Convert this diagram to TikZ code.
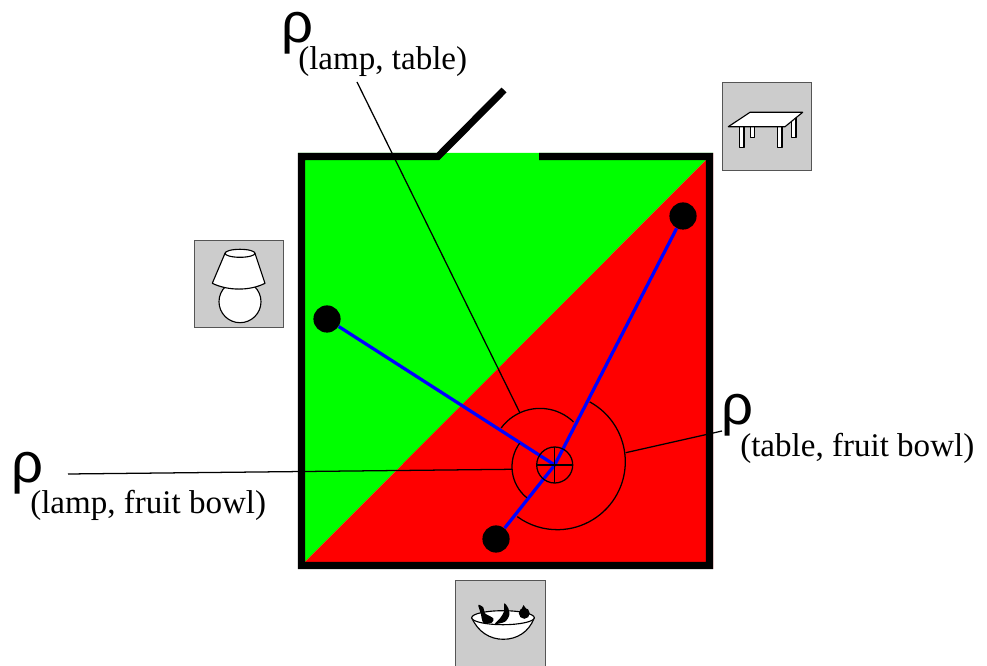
\documentclass[tikz,border=0pt]{standalone}
\usepackage{fontspec}
\setmainfont{Liberation Serif}
\newfontfamily\rhofont{Liberation Sans}
\usepackage{xcolor}
\usepackage{tikz}
\usetikzlibrary{arrows.meta,positioning,calc}
\definecolor{roomgreen}{RGB}{0,255,0}
\definecolor{roomred}{RGB}{255,0,0}
\definecolor{iconbg}{RGB}{204,204,204}
\definecolor{iconedge}{RGB}{85,85,85}
\definecolor{rayblue}{RGB}{0,0,255}
\tikzset{
  wall/.style={draw=black, line width=5pt, line cap=butt, line join=miter},
  ray/.style={draw=rayblue, line width=2.3pt},
  thin line/.style={draw=black, line width=0.9pt},
  obj/.style={circle, fill=black, inner sep=0pt, minimum size=0.68cm},
  icon/.style={draw=iconedge, fill=iconbg, line width=0.6pt},
  iconpart/.style={draw=black, fill=white, line width=0.8pt, line join=round},
  rholab/.style={font=\rhofont\fontsize{40}{44}\selectfont, anchor=base west, inner sep=0pt},
  sublab/.style={font=\fontsize{23.5}{26}\selectfont, anchor=base west, inner sep=0pt}
}
\begin{document}
\begin{tikzpicture}[x=0.025cm,y=0.025cm]
  \useasboundingbox (0,0) rectangle (987,665);
  % room
  \fill[roomgreen] (298,512) -- (713,512) -- (298,96) -- cycle;
  \fill[roomred] (713,512) -- (713,96) -- (298,96) -- cycle;
  \draw[wall] (504,575) -- (438,508.5) -- (301.5,508.5) -- (301.5,99.5) -- (709.5,99.5) -- (709.5,508.5) -- (539,508.5);
  % objects
  \coordinate (centre) at (554.7,200);
  \node[obj] (lamp) at (327,346) {};
  \node[obj] (tbl) at (683,449) {};
  \node[obj] (bowl) at (496,126) {};
  \draw[ray] (lamp) -- (centre);
  \draw[ray] (tbl) -- (centre);
  \draw[ray] (bowl) -- (centre);
  % angle arcs
  \draw[thin line] (centre) circle[radius=18];
  \draw[thin line] (536.7,200) -- (572.7,200);
  \draw[thin line] (554.7,182) -- (554.7,218);
  \draw[thin line] (540,208.3) ++(143.4:48.3) arc[start angle=143.4, end angle=46, radius=48.3];
  \draw[thin line] (557.3,203.3) ++(61.5:68) arc[start angle=61.5, end angle=-126, radius=68];
  \draw[thin line] (552,198.3) ++(144:40) arc[start angle=144, end angle=231, radius=40];
  % labels
  \node[rholab] (rholt) at (281,622) {ρ};
  \node[sublab] (sublt) at (298,595.5) {(lamp, table)};
  \node[rholab] (rholb) at (11,182) {ρ};
  \node[sublab] (sublb) at (30,151.5) {(lamp, fruit bowl)};
  \node[rholab] (rhotb) at (721,240) {ρ};
  \node[sublab] (subtb) at (740,208.5) {(table, fruit bowl)};
  \coordinate (ltstart) at (357,583);
  \coordinate (ltend) at (520,252);
  \coordinate (lbstart) at (68,191);
  \coordinate (lbend) at (512,195.7);
  \coordinate (tbstart) at (722,234);
  \coordinate (tbend) at (625.7,212.3);
  \draw[thin line] (ltstart) -- (ltend);
  \draw[thin line] (lbstart) -- (lbend);
  \draw[thin line] (tbstart) -- (tbend);
  % lamp icon
  \draw[icon] (194,338) rectangle (283,425);
  \draw[iconpart] (240,363.3) circle[radius=21];
  \draw[iconpart] (225,411.7) -- (212.3,381.7) .. controls (228,374) and (250,374) .. (265,381.7) -- (255,411.7) -- cycle;
  \draw[iconpart] (240,411.7) ellipse[x radius=15, y radius=4];
  % table icon
  \draw[icon] (722,495) rectangle (811,583);
  \draw[iconpart] (791.7,547) rectangle (796,527.7);
  \draw[iconpart] (750.3,538.3) rectangle (754.7,527.7);
  \draw[iconpart] (739.3,538.3) rectangle (744,517.7);
  \draw[iconpart] (777.7,538.3) rectangle (782,517.7);
  \draw[iconpart] (728.3,538.3) -- (750,552.7) -- (802.7,552.7) -- (785,538.3) -- cycle;
  % bowl icon
  \draw[icon] (455,85) rectangle (545,-3);
  \draw[iconpart] (471.7,47.3) .. controls (478,33) and (490,25.7) .. (503.3,25.7) .. controls (517,25.7) and (529,33) .. (534.3,47.3) -- cycle;
  \draw[iconpart] (503,47.3) ellipse[x radius=31.3, y radius=7];
  \fill[black] plot[smooth cycle, tension=0.5] coordinates {(478.3,60) (483.3,57.7) (485,51.7) (493.3,46.7) (491.7,42.3) (483.3,42.3) (480.7,51.7)};
  \fill[black] plot[smooth cycle, tension=0.5] coordinates {(504.3,61.7) (508.3,56.7) (509.3,50) (505,43.3) (495,41) (500,46.7) (504,53.3)};
  \fill[black] (524.3,51.7) circle[radius=5.5];
  \fill[black] (523.5,60) -- (527,55) -- (521,55) -- cycle;
\end{tikzpicture}
\end{document}
